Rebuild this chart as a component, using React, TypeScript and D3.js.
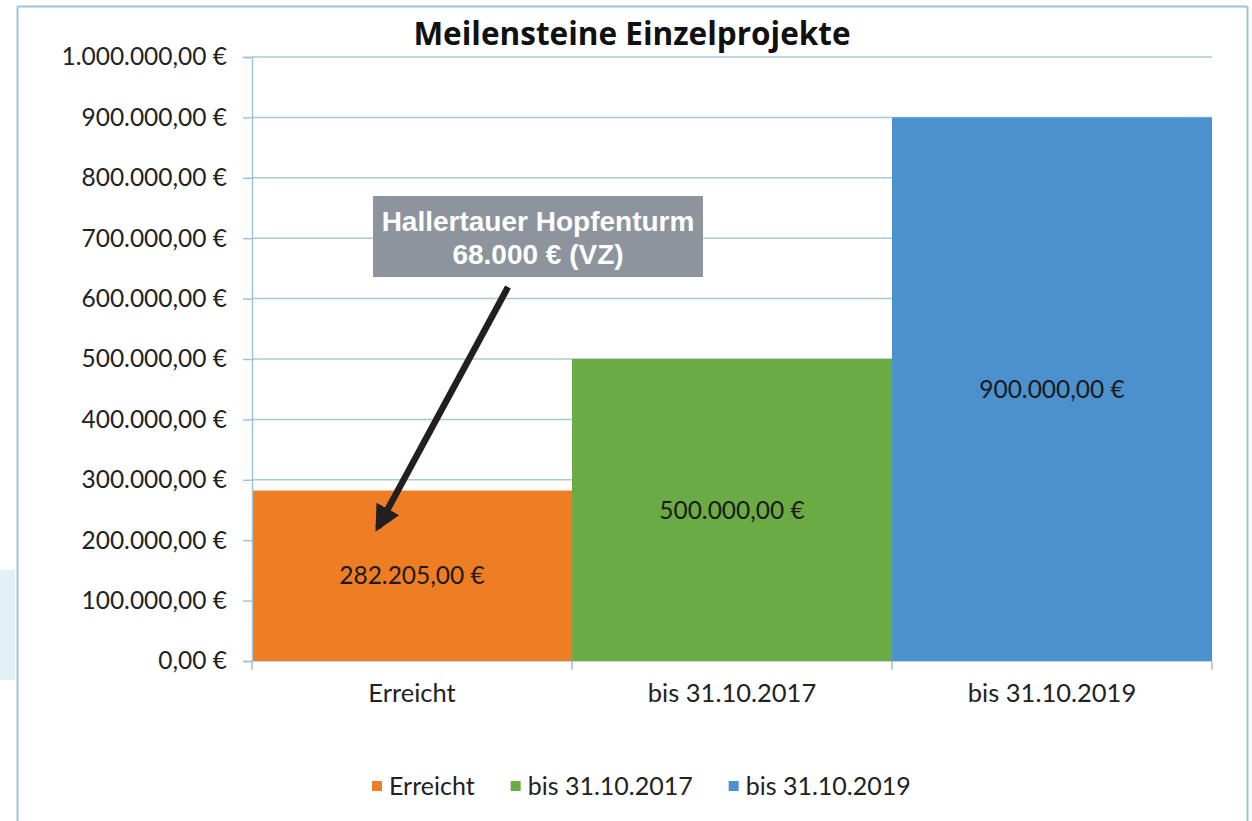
import { useEffect, useRef } from "react";
import * as d3 from "d3";

const categories = ["Erreicht", "bis 31.10.2017", "bis 31.10.2019"];
const values = [282205, 500000, 900000];
const colors = ["#ee7d23", "#6aab44", "#4b91cd"];
const yTicks = [0, 100000, 200000, 300000, 400000, 500000, 600000, 700000, 800000, 900000, 1000000];
const title = "Meilensteine Einzelprojekte";
const noteLines = ["Hallertauer Hopfenturm", "68.000 € (VZ)"];

const euro = (v: number) => {
  const s = d3.format(",.2f")(v);
  return s.replace(/,/g, "#").replace(".", ",").replace(/#/g, ".") + " €";
};

const App = () => {
  const ref = useRef<SVGSVGElement | null>(null);

  useEffect(() => {
    const W = 1252;
    const H = 821;
    const margin = { top: 57, right: 40, bottom: 160, left: 252 };
    const width = W - margin.left - margin.right;
    const height = H - margin.top - margin.bottom;
    const font = "Lato, 'Open Sans', sans-serif";
    const frame = "#9cc3da";

    const svg = d3.select(ref.current);
    svg.selectAll("*").remove();

    svg.append("rect").attr("width", W).attr("height", H).attr("fill", "#fff");
    // bits of the page behind the chart
    svg.append("rect").attr("x", 0).attr("y", 570).attr("width", 15).attr("height", 110).attr("fill", "#e3f0f8");
    const border = [
      [17.5, 6.5, 1247.5, 6.5],
      [17.5, 6.5, 17.5, H],
      [1247.5, 6.5, 1247.5, H],
    ];
    svg
      .selectAll(".border")
      .data(border)
      .enter()
      .append("line")
      .attr("x1", (d) => d[0])
      .attr("y1", (d) => d[1])
      .attr("x2", (d) => d[2])
      .attr("y2", (d) => d[3])
      .attr("stroke", frame)
      .attr("stroke-width", 2);

    const g = svg.append("g").attr("transform", `translate(${margin.left}, ${margin.top})`);

    const x = d3.scaleBand().domain(categories).range([0, width]).padding(0);
    const y = d3.scaleLinear().domain([0, 1000000]).range([height, 0]);

    g.selectAll(".grid")
      .data(yTicks)
      .enter()
      .append("line")
      .attr("x1", 0)
      .attr("x2", width)
      .attr("y1", (d) => y(d))
      .attr("y2", (d) => y(d))
      .attr("stroke", "#a9c8d8")
      .attr("stroke-width", 1.5);

    g.selectAll(".bar")
      .data(values)
      .enter()
      .append("rect")
      .attr("x", (_, i) => x(categories[i])!)
      .attr("y", (d) => y(d))
      .attr("width", x.bandwidth())
      .attr("height", (d) => height - y(d))
      .attr("fill", (_, i) => colors[i]);

    g.selectAll(".val")
      .data(values)
      .enter()
      .append("text")
      .attr("x", (_, i) => x(categories[i])! + x.bandwidth() / 2)
      .attr("y", (d) => (y(d) + height) / 2)
      .attr("dy", "0.35em")
      .attr("text-anchor", "middle")
      .attr("font-family", font)
      .attr("font-size", 24.5)
      .attr("fill", "#1a1a1a")
      .text((d) => euro(d));

    const yAxis = g
      .append("g")
      .call(d3.axisLeft(y).tickValues(yTicks).tickSize(9).tickPadding(16).tickFormat((d) => euro(+d)));
    yAxis.select(".domain").attr("stroke", frame).attr("stroke-width", 1.5);
    yAxis.selectAll(".tick line").attr("stroke", frame).attr("stroke-width", 1.5);
    yAxis.selectAll("text").attr("font-family", font).attr("font-size", 24.5).attr("fill", "#222");

    const xAxis = g
      .append("g")
      .attr("transform", `translate(0, ${height})`)
      .call(d3.axisBottom(x).tickSize(0).tickPadding(23));
    xAxis.select(".domain").remove();
    xAxis.selectAll("text").attr("font-family", font).attr("font-size", 25.5).attr("fill", "#222");
    g.selectAll(".xt")
      .data([0, 1, 2, 3])
      .enter()
      .append("line")
      .attr("x1", (i) => i * x.bandwidth())
      .attr("x2", (i) => i * x.bandwidth())
      .attr("y1", height)
      .attr("y2", height + 9)
      .attr("stroke", frame)
      .attr("stroke-width", 1.5);

    svg
      .append("text")
      .attr("x", 632)
      .attr("y", 45)
      .attr("text-anchor", "middle")
      .attr("font-family", "'Open Sans', Lato, sans-serif")
      .attr("font-weight", "bold")
      .attr("font-size", 31.5)
      .attr("fill", "#111")
      .text(title);

    // legend
    const legend = svg.append("g").attr("transform", "translate(372, 786)");
    let lx = 0;
    categories.forEach((c, i) => {
      const item = legend.append("g").attr("transform", `translate(${lx}, 0)`);
      item.append("rect").attr("x", 0).attr("y", -5).attr("width", 10).attr("height", 10).attr("fill", colors[i]);
      const t = item
        .append("text")
        .attr("x", 17)
        .attr("dy", "0.35em")
        .attr("font-family", font)
        .attr("font-size", 25)
        .attr("fill", "#222")
        .text(c);
      const tw = (t.node() as SVGTextElement).getComputedTextLength();
      lx += 17 + tw + 36;
    });

    // annotation
    svg.append("rect").attr("x", 373).attr("y", 196).attr("width", 330).attr("height", 81).attr("fill", "#8e949d");
    noteLines.forEach((l, i) => {
      svg
        .append("text")
        .attr("x", 538)
        .attr("y", 231 + i * 33)
        .attr("text-anchor", "middle")
        .attr("font-family", "'Liberation Sans', Arial, sans-serif")
        .attr("font-weight", "bold")
        .attr("font-size", 28)
        .attr("fill", "#fff")
        .text(l);
    });

    svg
      .append("defs")
      .append("marker")
      .attr("id", "ah")
      .attr("viewBox", "0 0 10 10")
      .attr("refX", 8)
      .attr("refY", 5)
      .attr("markerWidth", 4)
      .attr("markerHeight", 4)
      .attr("orient", "auto")
      .append("path")
      .attr("d", "M0,0 L10,5 L0,10 Z")
      .attr("fill", "#231f20");

    const tipX = margin.left + x("Erreicht")! + 120;
    const tipY = margin.top + y(200000) - 2;
    svg
      .append("line")
      .attr("x1", 508)
      .attr("y1", 287)
      .attr("x2", tipX + 6)
      .attr("y2", tipY - 11)
      .attr("stroke", "#231f20")
      .attr("stroke-width", 6.5)
      .attr("marker-end", "url(#ah)");
  }, []);

  return (
    <svg
      ref={ref}
      width={1252}
      height={821}
      style={{ display: "block", position: "absolute", left: 0, top: 0 }}
    />
  );
};

export default App;
